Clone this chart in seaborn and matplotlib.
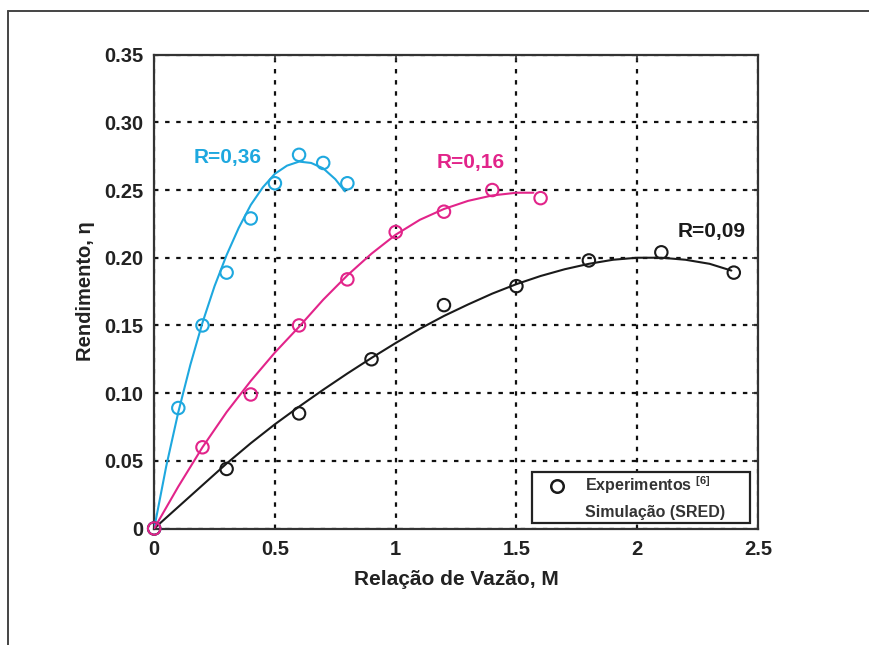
import numpy as np
import pandas as pd
import matplotlib
matplotlib.use("Agg")
import matplotlib.pyplot as plt
from matplotlib.lines import Line2D
from matplotlib.patches import Rectangle
import seaborn as sns

# ---------------- data ----------------
# Experiments (circles)
exp36_x = [0, 0.1, 0.2, 0.3, 0.4, 0.5, 0.6, 0.7, 0.8]
exp36_y = [0, 0.089, 0.150, 0.189, 0.229, 0.255, 0.276, 0.270, 0.255]

exp16_x = [0, 0.2, 0.4, 0.6, 0.8, 1.0, 1.2, 1.4, 1.6]
exp16_y = [0, 0.060, 0.099, 0.150, 0.184, 0.219, 0.234, 0.250, 0.244]

exp09_x = [0, 0.3, 0.6, 0.9, 1.2, 1.5, 1.8, 2.1, 2.4]
exp09_y = [0, 0.044, 0.085, 0.125, 0.165, 0.179, 0.198, 0.204, 0.189]

# Simulation (SRED) curves
sim36_x = [0, 0.05, 0.1, 0.15, 0.2, 0.25, 0.3, 0.35, 0.4, 0.45, 0.5, 0.55,
           0.6, 0.65, 0.7, 0.75, 0.79]
sim36_y = [0, 0.046, 0.086, 0.121, 0.152, 0.179, 0.202, 0.222, 0.239, 0.252,
           0.262, 0.268, 0.271, 0.270, 0.266, 0.258, 0.249]

sim16_x = [0, 0.1, 0.2, 0.3, 0.4, 0.5, 0.6, 0.7, 0.8, 0.9, 1.0, 1.1, 1.2,
           1.3, 1.4, 1.5, 1.57]
sim16_y = [0, 0.031, 0.060, 0.086, 0.109, 0.130, 0.149, 0.169, 0.187, 0.203,
           0.217, 0.228, 0.236, 0.242, 0.246, 0.248, 0.248]

sim09_x = [0, 0.1, 0.2, 0.3, 0.4, 0.5, 0.6, 0.7, 0.8, 0.9, 1.0, 1.1, 1.2,
           1.3, 1.4, 1.5, 1.6, 1.7, 1.8, 1.9, 2.0, 2.1, 2.2, 2.3, 2.39]
sim09_y = [0, 0.016, 0.032, 0.048, 0.063, 0.077, 0.090, 0.1025, 0.1145,
           0.126, 0.137, 0.1475, 0.157, 0.1655, 0.1735, 0.1805, 0.1865, 0.1915,
           0.1955, 0.1985, 0.2000, 0.2000, 0.1985, 0.1955, 0.1905]

labels_R = ["R=0,36", "R=0,16", "R=0,09"]
label_pos = [(0.305, 0.274), (1.31, 0.270), (2.31, 0.2196)]

x_ticks = [0, 0.5, 1, 1.5, 2, 2.5]
x_ticklabels = ["0", "0.5", "1", "1.5", "2", "2.5"]
y_ticks = [0, 0.05, 0.10, 0.15, 0.20, 0.25, 0.30, 0.35]
y_ticklabels = ["0", "0.05", "0.10", "0.15", "0.20", "0.25", "0.30", "0.35"]

# ---------------- style ----------------
sns.set_style("white")
plt.rcParams['font.family'] = ['Liberation Sans', 'DejaVu Sans']
plt.rcParams['mathtext.fontset'] = 'custom'
plt.rcParams['mathtext.rm'] = 'Liberation Sans'
plt.rcParams['mathtext.bf'] = 'Liberation Sans:bold'

CYAN = '#1ea8df'
MAG = '#e2248a'
BLK = '#1a1a1a'

fig = plt.figure(figsize=(8.7, 6.45), dpi=100)
ax = fig.add_axes([0.1772, 0.1806, 0.694, 0.7347])

series = [
    (sim36_x, sim36_y, exp36_x, exp36_y, CYAN),
    (sim09_x, sim09_y, exp09_x, exp09_y, BLK),
    (sim16_x, sim16_y, exp16_x, exp16_y, MAG),
]
for sx, sy, ex, ey, c in series:
    sns.lineplot(x=sx, y=sy, ax=ax, color=c, linewidth=1.5, sort=False,
                 estimator=None, zorder=3)
    sns.scatterplot(x=ex, y=ey, ax=ax, marker='o', s=80,
                    facecolors='none', edgecolor=c, linewidth=1.5,
                    zorder=4)
for line in ax.lines:
    line.set_solid_joinstyle('round')
for coll in ax.collections:
    coll.set_clip_on(False)

for (lx, ly), txt, c in zip(label_pos, labels_R, [CYAN, MAG, BLK]):
    ax.text(lx, ly, txt, color=c, fontsize=15, fontweight='bold',
            ha='center', va='center')

ax.set_xlim(0, 2.5)
ax.set_ylim(0, 0.35)
ax.set_xticks(x_ticks)
ax.set_xticklabels(x_ticklabels)
ax.set_yticks(y_ticks)
ax.set_yticklabels(y_ticklabels)
for lab in ax.get_xticklabels() + ax.get_yticklabels():
    lab.set_fontweight('bold')
    lab.set_fontsize(14.5)
    lab.set_color('#222222')
ax.tick_params(direction='in', length=4, width=1.2, color='#333333',
               top=True, right=True, pad=8)

ax.grid(True, color='#111111', linestyle=(0, (2, 3)), linewidth=1.6)
ax.set_axisbelow(True)
for sp in ax.spines.values():
    sp.set_color('#333333')
    sp.set_linewidth(1.6)

ax.set_xlabel("Relação de Vazão, M", fontsize=15, fontweight='bold',
              color='#222222', labelpad=8)
ax.set_ylabel("Rendimento, η", fontsize=14.5, fontweight='bold',
              color='#222222', labelpad=6)

# legend box
box = Rectangle((0.6257, 0.0116), 0.9868 - 0.6257, 0.1199 - 0.0116,
                transform=ax.transAxes, facecolor='white', edgecolor='#222222',
                linewidth=1.6, zorder=5)
ax.add_patch(box)

handles = [Line2D([], [], linestyle='none', marker='o', markersize=9,
                  markerfacecolor='none', markeredgecolor=BLK,
                  markeredgewidth=1.8),
           Line2D([], [], linestyle='none')]
leg = ax.legend(handles, [r'Experimentos $^{\mathbf{[6]}}$',
                          'Simulação (SRED)'],
                loc='center left', bbox_to_anchor=(0.639, 0.0654),
                frameon=False, prop={'weight': 'bold', 'size': 11.5},
                borderpad=0, handlelength=2.1, handletextpad=0.69,
                labelspacing=0.55, borderaxespad=0)
leg.set_zorder(6)
for t in leg.get_texts():
    t.set_color('#333333')

# outer frame (left & top lines)
fig.add_artist(Line2D([8.5 / 870, 8.5 / 870], [0, 1 - 11 / 645],
                      transform=fig.transFigure, color='#444444', lw=1.4))
fig.add_artist(Line2D([8.5 / 870, 1], [1 - 11 / 645, 1 - 11 / 645],
                      transform=fig.transFigure, color='#444444', lw=1.4))

fig.savefig("out.png", dpi=100)
